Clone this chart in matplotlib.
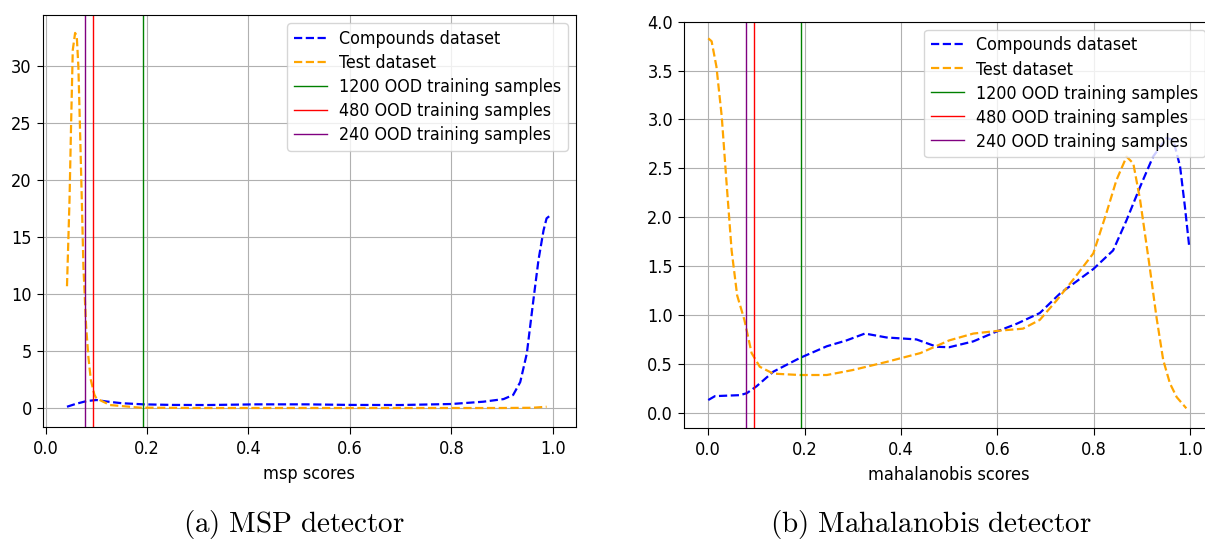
import numpy as np
import matplotlib.pyplot as plt

plt.rcParams['mathtext.fontset'] = 'cm'
plt.rcParams['font.stretch'] = 'condensed'

# MSP detector: density of scores
msp_comp_x = [0.042, 0.06, 0.081, 0.1, 0.12, 0.15, 0.193, 0.25, 0.318, 0.416, 0.515,
              0.6, 0.699, 0.8, 0.863, 0.903, 0.922, 0.936, 0.949, 0.962, 0.972,
              0.982, 0.988, 0.995]
msp_comp_y = [0.14, 0.4, 0.64, 0.73, 0.6, 0.45, 0.35, 0.3, 0.29, 0.35, 0.35,
              0.3, 0.29, 0.38, 0.58, 0.81, 1.17, 2.3, 4.8, 9.5, 13.0,
              15.6, 16.65, 16.9]
msp_test_x = [0.042, 0.047, 0.050, 0.0534, 0.058, 0.0613, 0.0645, 0.0679, 0.0712,
              0.0744, 0.0797, 0.0842, 0.089, 0.096, 0.1, 0.127, 0.186, 0.3, 0.5,
              0.7, 0.9, 0.96, 0.988]
msp_test_y = [10.7, 18.3, 24.7, 31.4, 32.9, 32.6, 29.9, 24.1, 18.3,
              12.4, 7.2, 4.5, 2.5, 1.2, 0.87, 0.29, 0.06, 0.03, 0.03,
              0.03, 0.03, 0.05, 0.14]

# Mahalanobis detector: density of scores
maha_comp_x = [0.0, 0.014, 0.066, 0.08, 0.10, 0.135, 0.19, 0.246, 0.287, 0.325,
               0.37, 0.432, 0.474, 0.50, 0.55, 0.598, 0.64, 0.688, 0.73, 0.799,
               0.84, 0.868, 0.896, 0.923, 0.951, 0.965, 0.979, 0.989, 0.998]
maha_comp_y = [0.13, 0.17, 0.18, 0.20, 0.27, 0.42, 0.56, 0.68, 0.74, 0.81,
               0.77, 0.75, 0.675, 0.67, 0.73, 0.83, 0.91, 1.02, 1.22, 1.47,
               1.66, 1.97, 2.31, 2.62, 2.81, 2.79, 2.52, 2.11, 1.70]
maha_test_x = [0.0, 0.007, 0.017, 0.028, 0.038, 0.0485, 0.06, 0.075, 0.09, 0.107,
               0.135, 0.19, 0.246, 0.30, 0.37, 0.44, 0.50, 0.55, 0.605, 0.653,
               0.688, 0.723, 0.757, 0.799, 0.826, 0.847, 0.868, 0.882, 0.896,
               0.916, 0.93, 0.944, 0.958, 0.972, 0.992]
maha_test_y = [3.83, 3.80, 3.54, 3.03, 2.35, 1.66, 1.2, 0.95, 0.61, 0.47,
               0.40, 0.386, 0.386, 0.437, 0.52, 0.61, 0.74, 0.81, 0.84, 0.86,
               0.95, 1.15, 1.36, 1.63, 2.04, 2.38, 2.62, 2.55, 2.18,
               1.49, 0.98, 0.54, 0.30, 0.16, 0.045]

# thresholds for each amount of OOD training data
thresholds = [0.192, 0.094, 0.078]
threshold_labels = ['1200 OOD training samples', '480 OOD training samples',
                    '240 OOD training samples']
threshold_colors = ['green', 'red', 'purple']

fig = plt.figure(figsize=(12.05, 5.42), dpi=100)
ax1 = fig.add_axes([0.0354, 0.2127, 0.4426, 0.7596])
ax2 = fig.add_axes([0.5676, 0.2109, 0.4393, 0.749])

panels = [
    (ax1, msp_comp_x, msp_comp_y, msp_test_x, msp_test_y, 'msp scores',
     (-0.006, 1.046), (-1.61, 34.47)),
    (ax2, maha_comp_x, maha_comp_y, maha_test_x, maha_test_y, 'mahalanobis scores',
     (-0.0504, 1.048), (-0.153, 4.0)),
]

for ax, cx, cy, tx, ty, xlabel, xlim, ylim in panels:
    ax.plot(cx, cy, '--', color='blue', lw=1.6, label='Compounds dataset')
    ax.plot(tx, ty, '--', color='orange', lw=1.6, label='Test dataset')
    for t, lab, c in zip(thresholds, threshold_labels, threshold_colors):
        ax.axvline(t, color=c, lw=1.0, label=lab)
    ax.set_xlim(*xlim)
    ax.set_ylim(*ylim)
    ax.grid(True)
    ax.tick_params(labelsize=13)
    ax.tick_params(axis='x', length=5, pad=4.5)
    ax.tick_params(axis='y', length=4.3)
    ax.set_xlabel(xlabel, fontsize=13, labelpad=5)
    ax.legend(loc='upper right', fontsize=12.8, labelspacing=0.34,
              handlelength=1.85, borderpad=0.38, handletextpad=0.7,
              borderaxespad=0.45)

fig.text(0.244, 0.018, r'$\mathrm{(a)\ MSP\ detector}$', fontsize=21, ha='center')
fig.text(0.7726, 0.018, r'$\mathrm{(b)\ Mahalanobis\ detector}$', fontsize=21, ha='center')

fig.savefig('out.png', dpi=100)
